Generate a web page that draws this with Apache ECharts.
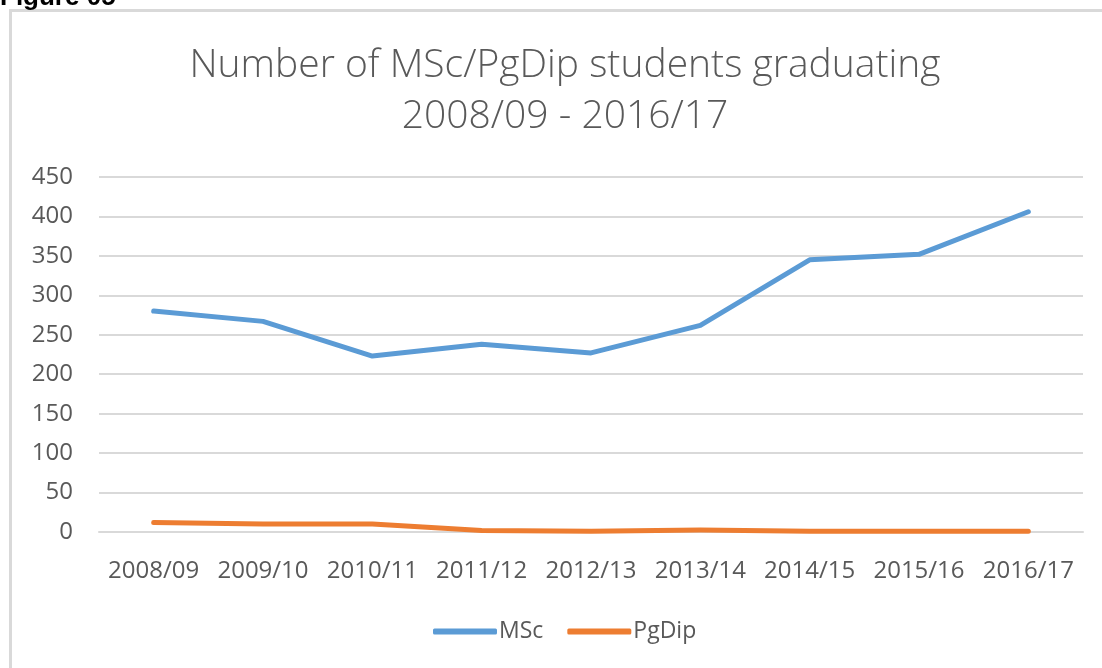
<!DOCTYPE html>
<html>
<head>
<meta charset="utf-8">
<script src="https://cdn.jsdelivr.net/npm/echarts@6/dist/echarts.min.js"></script>
<style>
html,body{margin:0;padding:0;background:#fff;}
#c{width:1102px;height:668px;}
</style>
</head>
<body>
<div id="c"></div>
<script>
var categories = ['2008/09','2009/10','2010/11','2011/12','2012/13','2013/14','2014/15','2015/16','2016/17'];
var msc = [280, 267, 223, 238, 227, 262, 345, 352, 406];
var pgdip = [12, 10, 10, 2, 1, 2.5, 1, 1, 1];
var yTicks = [0, 50, 100, 150, 200, 250, 300, 350, 400, 450];

var chart = echarts.init(document.getElementById('c'));
var font = '"Open Sans", Lato, sans-serif';
chart.setOption({
  backgroundColor: '#ffffff',
  animation: false,
  title: {
    text: 'Number of MSc/PgDip students graduating\n2008/09 - 2016/17',
    left: 560, top: 35, textAlign: 'center',
    textStyle: {color: '#595959', fontSize: 39, fontWeight: 300, fontFamily: font, lineHeight: 51}
  },
  graphic: [
    {type: 'rect', shape: {x: 10.5, y: 10.5, width: 1300, height: 900}, style: {fill: 'none', stroke: '#d9d9d9', lineWidth: 3}, z: 0},
    {type: 'text', x: 0, y: -15, style: {text: 'Figure 05', font: 'bold 26px Arial, "Liberation Sans", sans-serif', fill: '#000'}}
  ],
  legend: {
    bottom: 20, left: 428,
    itemWidth: 64, itemHeight: 6, itemGap: 24,
    icon: 'roundRect',
    textStyle: {color: '#595959', fontSize: 23, fontFamily: font, padding: [0,0,0,-3]},
    data: ['MSc', 'PgDip']
  },
  grid: {left: 99, right: 19, top: 177, bottom: 136},
  xAxis: {
    type: 'category', data: categories, boundaryGap: true,
    axisLine: {show: true, lineStyle: {color: '#d9d9d9', width: 2}},
    axisTick: {show: false},
    axisLabel: {color: '#595959', fontSize: 24, fontFamily: font, margin: 27, interval: 0}
  },
  yAxis: {
    type: 'value', min: 0, max: 450, interval: 50,
    axisLine: {show: false}, axisTick: {show: false},
    axisLabel: {color: '#595959', fontSize: 24, fontFamily: font, margin: 26},
    splitLine: {lineStyle: {color: '#d9d9d9', width: 2}}
  },
  series: [
    {name: 'MSc', type: 'line', data: msc, symbol: 'none', lineStyle: {color: '#5b9bd5', width: 5, cap: 'round', join: 'round'}, itemStyle: {color: '#5b9bd5'}},
    {name: 'PgDip', type: 'line', data: pgdip, symbol: 'none', lineStyle: {color: '#ed7d31', width: 5, cap: 'round', join: 'round'}, itemStyle: {color: '#ed7d31'}}
  ]
});
</script>
</body>
</html>
